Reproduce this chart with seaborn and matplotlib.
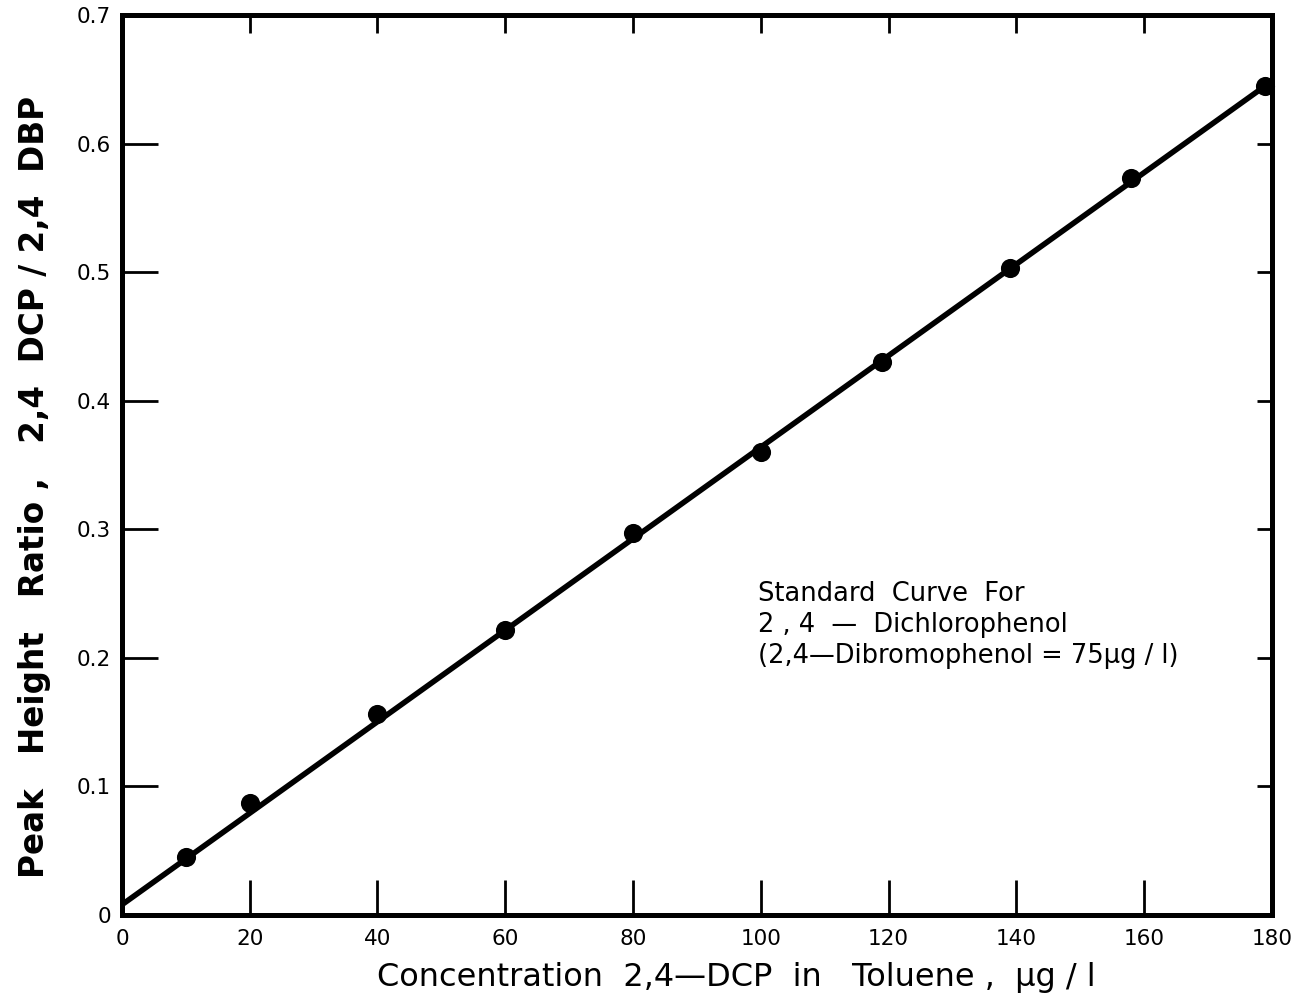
import matplotlib
matplotlib.use("Agg")
import matplotlib.pyplot as plt
import seaborn as sns
import pandas as pd
from matplotlib.ticker import FuncFormatter

# Calibration data: 2,4-DCP concentration vs. peak height ratio
concentration = [10, 20, 40, 60, 80, 100, 119, 139, 158, 179]
peak_ratio = [0.045, 0.087, 0.156, 0.222, 0.297, 0.360, 0.430, 0.503, 0.573, 0.645]

# Fitted standard curve end points
fit_x = [0, 179]
fit_y = [0.008, 0.645]

x_ticks = [0, 20, 40, 60, 80, 100, 120, 140, 160, 180]
y_ticks = [0, 0.1, 0.2, 0.3, 0.4, 0.5, 0.6, 0.7]

sns.set_style("ticks")
plt.rcParams["font.family"] = ["DejaVu Sans"]
for key in ["text.color", "axes.edgecolor", "axes.labelcolor", "xtick.color", "ytick.color"]:
    plt.rcParams[key] = "black"

fig = plt.figure(figsize=(13.03, 9.99), dpi=100)
ax = fig.add_axes([0.0936, 0.0841, 0.8825, 0.9009])

df = pd.DataFrame({"conc": concentration, "ratio": peak_ratio})
fit = pd.DataFrame({"conc": fit_x, "ratio": fit_y})

sns.lineplot(data=fit, x="conc", y="ratio", ax=ax, color="black", linewidth=4, zorder=2)
sns.scatterplot(data=df, x="conc", y="ratio", ax=ax, color="black", s=190,
                edgecolor="black", linewidth=0, zorder=3, clip_on=False)

ax.set_xlim(0, 180)
ax.set_ylim(0, 0.7)
ax.set_xticks(x_ticks)
ax.set_yticks(y_ticks)
ax.xaxis.set_major_formatter(FuncFormatter(lambda v, p: "0" if v == 0 else f"{v:g}"))
ax.yaxis.set_major_formatter(FuncFormatter(lambda v, p: "0" if v == 0 else f"{v:.1f}"))

for s in ax.spines.values():
    s.set_linewidth(3.6)
    s.set_visible(True)
    s.set_color("black")

ax.tick_params(axis="x", direction="in", length=25, width=2, labelsize=15.5, pad=10,
               color="black", labelcolor="black")
ax.tick_params(axis="y", direction="in", length=26, width=2, labelsize=15.5, pad=8,
               color="black", labelcolor="black")

# Short inward ticks along the top and right frame
top = ax.secondary_xaxis("top")
top.set_xticks(x_ticks[1:-1])
top.tick_params(direction="in", length=13, width=2, labeltop=False, color="black")
top.spines["top"].set_visible(False)
right = ax.secondary_yaxis("right")
right.set_yticks(y_ticks[1:-1])
right.tick_params(direction="in", length=11, width=2, labelright=False, color="black")
right.spines["right"].set_visible(False)

ax.set_xlabel("Concentration  2,4\u2014DCP  in   Toluene ,  \u03bcg / l", fontsize=23)
ax.xaxis.set_label_coords(0.534, -0.052)
ax.set_ylabel("Peak   Height   Ratio ,   2,4  DCP / 2,4  DBP", fontsize=23.5,
              fontweight="bold")
ax.yaxis.set_label_coords(-0.062, 0.476)

ax.text(99.5, 0.26, "Standard  Curve  For\n2 , 4  \u2014  Dichlorophenol\n"
        "(2,4\u2014Dibromophenol = 75\u03bcg / l)",
        fontsize=18.5, va="top", ha="left", linespacing=1.25)

fig.savefig("out.png", dpi=100)
